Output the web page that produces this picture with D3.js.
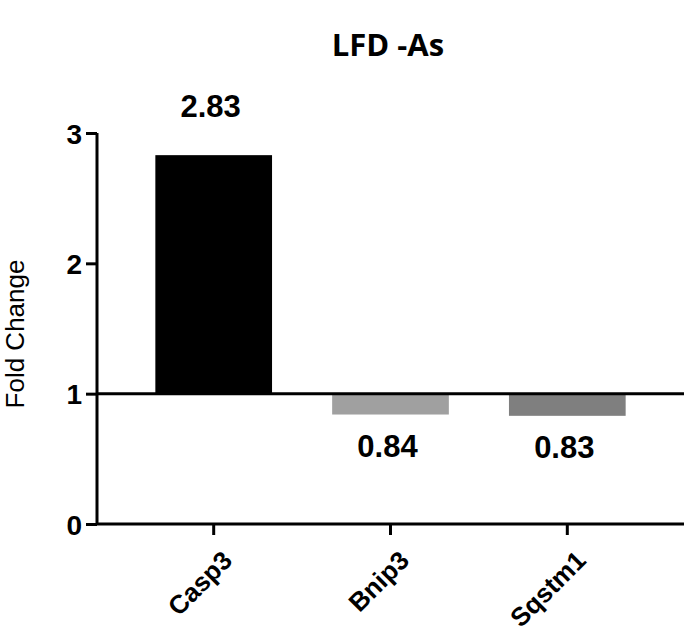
<!DOCTYPE html>
<html>
<head>
<meta charset="utf-8">
<script src="https://cdn.jsdelivr.net/npm/d3@7"></script>
<style>
  body { margin: 0; background: #fff; }
  svg text { font-family: "Liberation Sans", Arial, sans-serif; }
</style>
</head>
<body>
<div id="chart"></div>
<script>
var genes = ['Casp3', 'Bnip3', 'Sqstm1'];
var foldChange = [2.83, 0.84, 0.83];
var valueLabels = ['2.83', '0.84', '0.83'];
var barColors = ['#000000', '#a0a0a0', '#7f7f7f'];
var yTicks = [0, 1, 2, 3];

var width = 685, height = 634;

var svg = d3.select('#chart')
    .append('svg')
    .attr('width', width)
    .attr('height', height);

var x = d3.scaleBand()
    .domain(genes)
    .range([97, 684])
    .paddingInner(0.34)
    .paddingOuter(0.33);

var y = d3.scaleLinear()
    .domain([0, 3])
    .range([524, 133]);

// title
svg.append('text')
    .attr('x', 388)
    .attr('y', 56)
    .attr('text-anchor', 'middle')
    .style('font-family', '"Open Sans", sans-serif')
    .style('font-weight', 'bold')
    .style('font-size', '31px')
    .text('LFD -As');

// bars grow from 1 (no change)
svg.selectAll('rect.bar')
    .data(genes)
    .enter().append('rect')
    .attr('class', 'bar')
    .attr('x', function(d) { return x(d); })
    .attr('width', x.bandwidth())
    .attr('y', function(d, i) { return y(Math.max(1, foldChange[i])); })
    .attr('height', function(d, i) { return Math.abs(y(foldChange[i]) - y(1)); })
    .attr('fill', function(d, i) { return barColors[i]; });

// value labels
svg.selectAll('text.val')
    .data(genes)
    .enter().append('text')
    .attr('class', 'val')
    .attr('x', function(d) { return x(d) + x.bandwidth() / 2 - 3; })
    .attr('y', function(d, i) {
        return foldChange[i] > 1 ? y(foldChange[i]) - 38 : y(foldChange[i]) + 42;
    })
    .attr('text-anchor', 'middle')
    .style('font-weight', 'bold')
    .style('font-size', '31px')
    .text(function(d, i) { return valueLabels[i]; });

// baseline at 1
svg.append('line')
    .attr('x1', 97)
    .attr('x2', 684)
    .attr('y1', y(1))
    .attr('y2', y(1))
    .attr('stroke', '#000')
    .attr('stroke-width', 3);

// y axis
var yAxis = svg.append('g')
    .attr('transform', 'translate(97,0)')
    .call(d3.axisLeft(y).tickValues(yTicks).tickSize(11).tickPadding(4).tickFormat(d3.format('d')));
yAxis.select('.domain').attr('stroke-width', 3).attr('d', 'M0,' + y(0) + 'V' + y(3));
yAxis.selectAll('.tick line').attr('stroke-width', 3);
yAxis.selectAll('.tick text')
    .style('font-family', '"Liberation Sans", Arial, sans-serif')
    .style('font-weight', 'bold')
    .style('font-size', '28px')
    .attr('dy', '0.36em')
    .attr('fill', '#000');

// x axis
var xAxis = svg.append('g')
    .attr('transform', 'translate(0,' + y(0) + ')')
    .call(d3.axisBottom(x).tickSize(11).tickPadding(4));
xAxis.select('.domain').attr('stroke-width', 3).attr('d', 'M97,0H684');
xAxis.selectAll('.tick line').attr('stroke-width', 3);
xAxis.selectAll('.tick text')
    .style('font-family', '"Liberation Sans", Arial, sans-serif')
    .style('font-weight', 'bold')
    .style('font-size', '26px')
    .attr('fill', '#000')
    .attr('text-anchor', 'end')
    .attr('dy', '0.3em')
    .attr('transform', 'translate(4,22) rotate(-45)');

// y axis title
svg.append('text')
    .attr('transform', 'translate(24,334) rotate(-90)')
    .attr('text-anchor', 'middle')
    .style('font-size', '26px')
    .text('Fold Change');
</script>
</body>
</html>
